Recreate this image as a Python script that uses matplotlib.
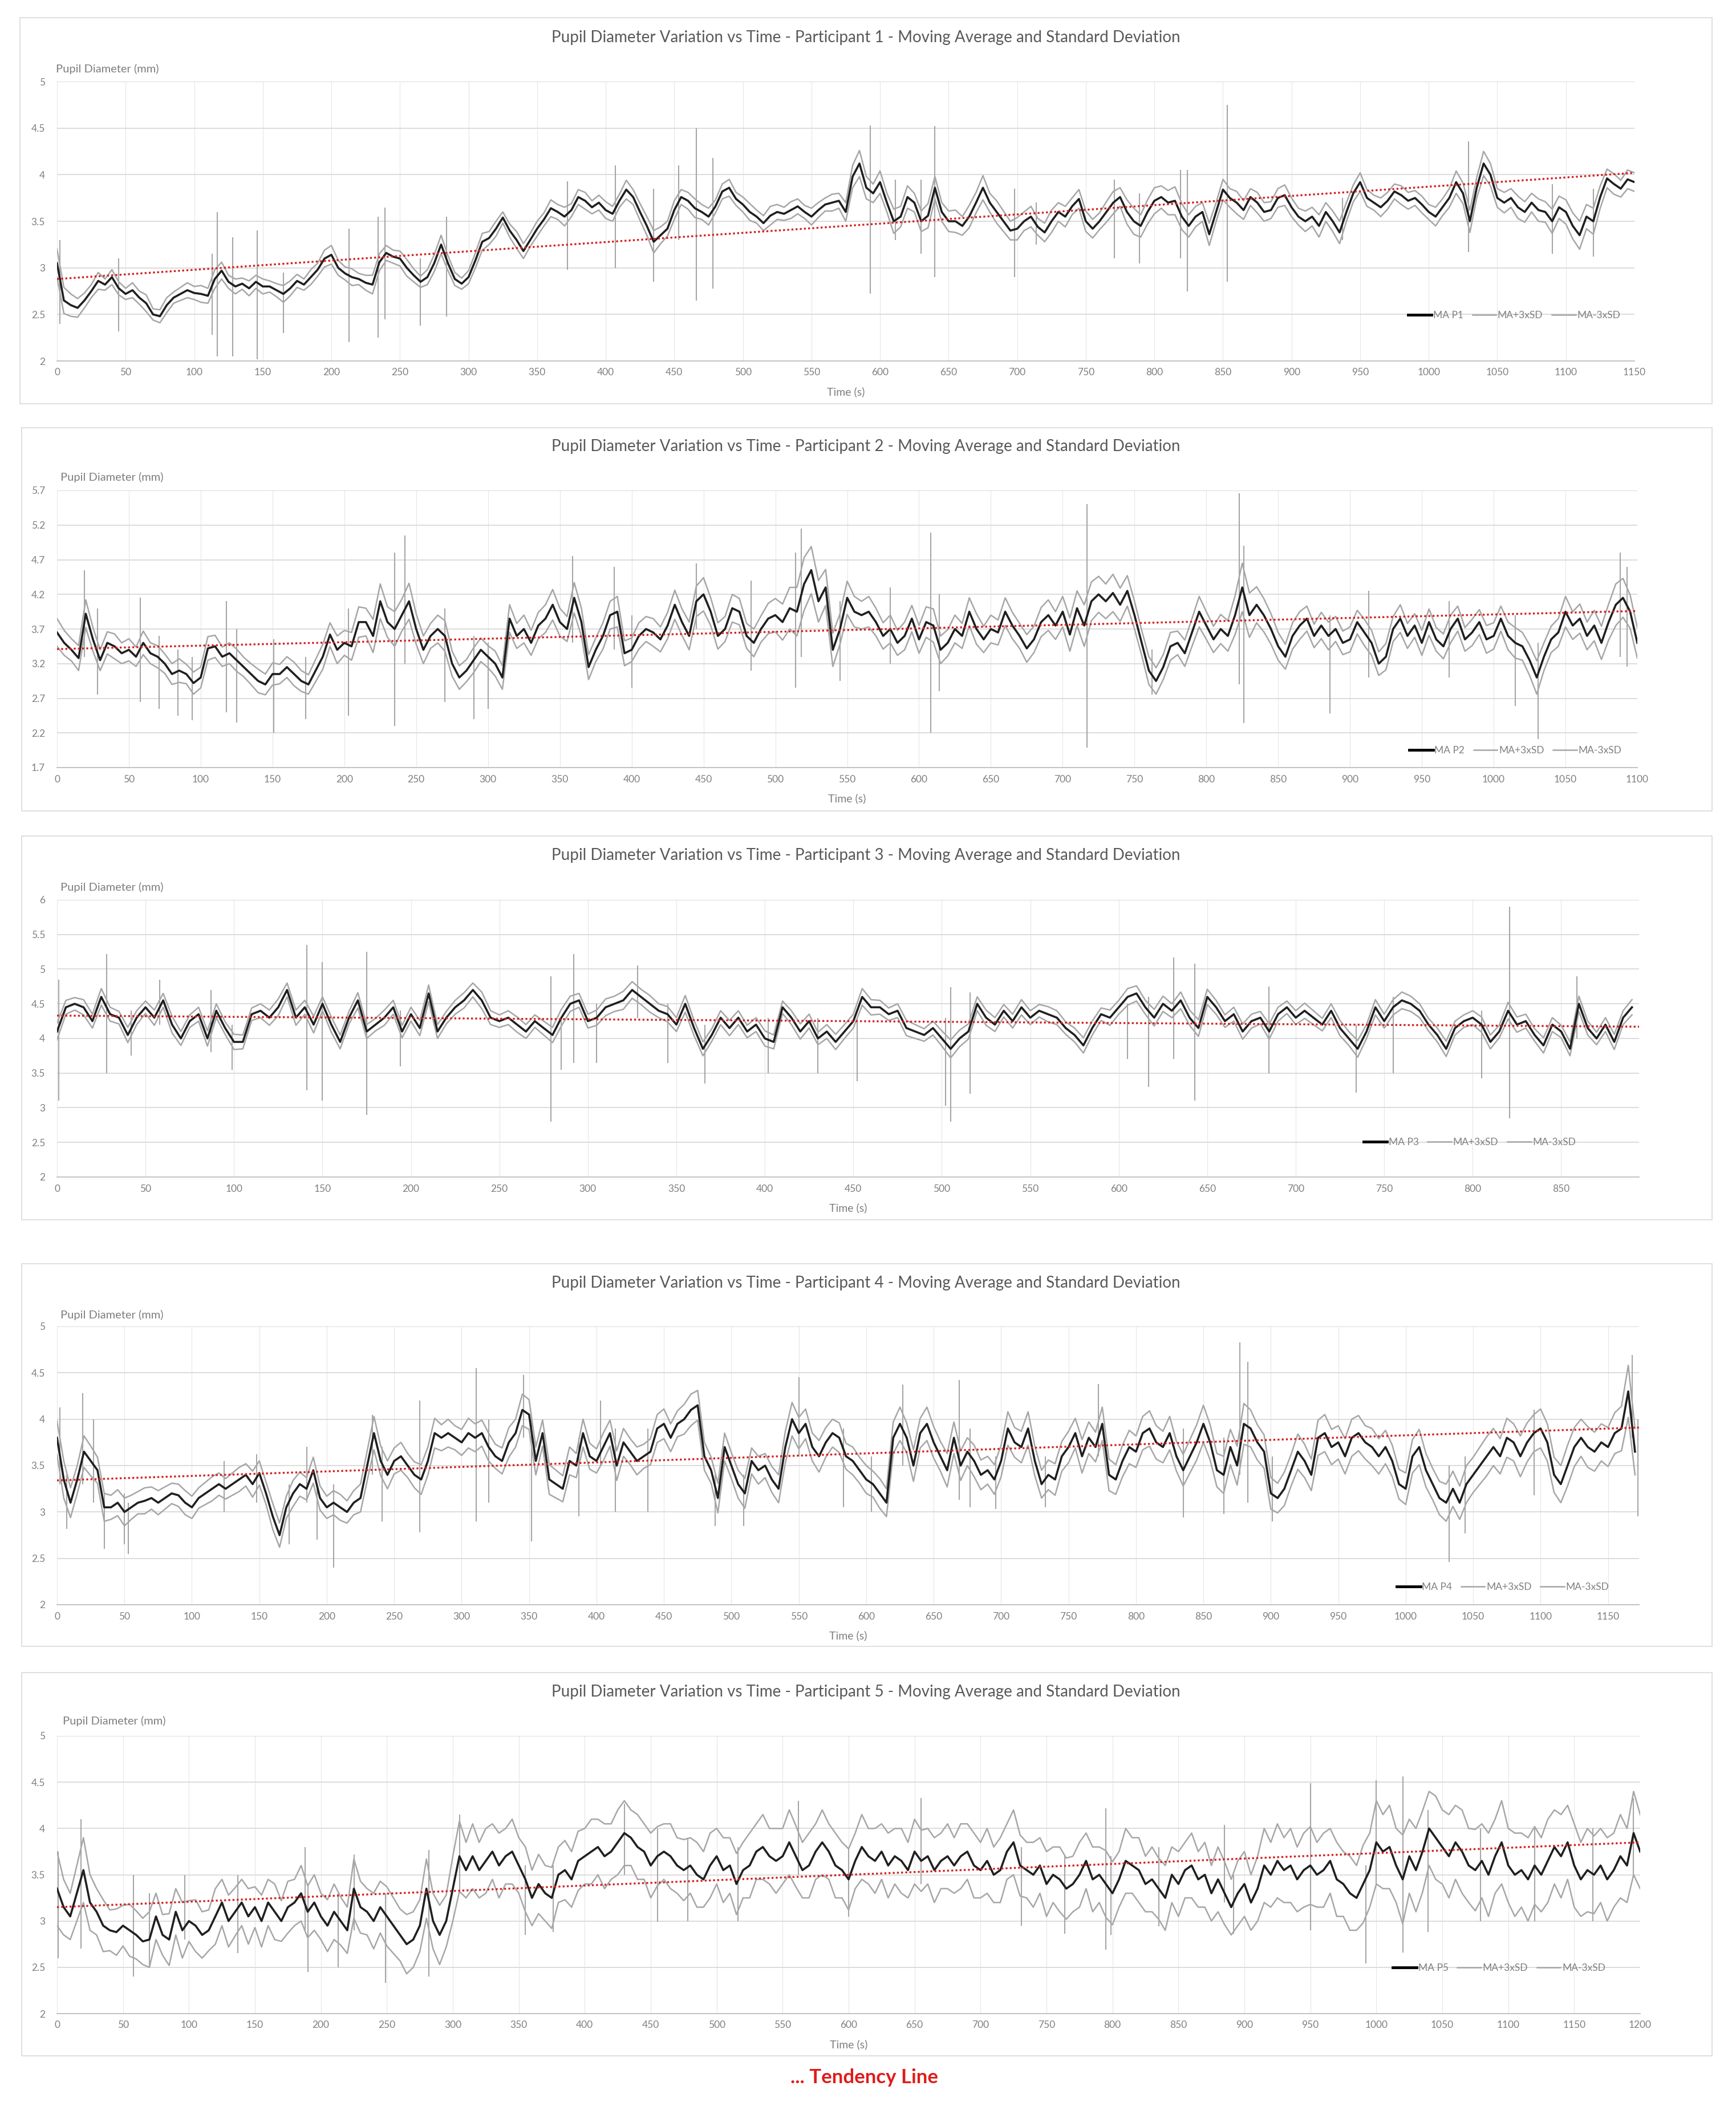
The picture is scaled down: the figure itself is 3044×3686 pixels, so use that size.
import numpy as np
import matplotlib.pyplot as plt
from matplotlib.patches import Rectangle

plt.rcParams['font.family'] = ['Lato', 'DejaVu Sans']

# seconds between two samples of the moving average
STEP = 5

# --- Participant 1 : moving average and 3xSD half width (mm) ---
ma_p1 = [
    3.05, 2.65, 2.6, 2.57, 2.65, 2.75, 2.86, 2.82, 2.9, 2.78,
    2.72, 2.76, 2.68, 2.62, 2.5, 2.48, 2.6, 2.68, 2.72, 2.76,
    2.73, 2.72, 2.7, 2.88, 2.97, 2.85, 2.8, 2.83, 2.78, 2.85,
    2.8, 2.8, 2.76, 2.72, 2.78, 2.86, 2.82, 2.9, 2.98, 3.1,
    3.14, 3.0, 2.94, 2.9, 2.88, 2.84, 2.82, 3.06, 3.16, 3.12,
    3.1, 3.0, 2.92, 2.85, 2.9, 3.05, 3.25, 3.05, 2.88, 2.83,
    2.9, 3.08, 3.28, 3.32, 3.42, 3.54, 3.4, 3.3, 3.18, 3.3,
    3.42, 3.52, 3.64, 3.6, 3.55, 3.62, 3.76, 3.72, 3.65, 3.7,
    3.62, 3.58, 3.72, 3.84, 3.76, 3.6, 3.45, 3.28, 3.35, 3.42,
    3.62, 3.76, 3.72, 3.64, 3.6, 3.55, 3.66, 3.82, 3.86, 3.74,
    3.68, 3.6, 3.55, 3.48, 3.56, 3.6, 3.58, 3.62, 3.66, 3.6,
    3.55, 3.62, 3.68, 3.7, 3.72, 3.6, 3.98, 4.12, 3.86, 3.8,
    3.92, 3.7, 3.5, 3.55, 3.76, 3.7, 3.5, 3.56, 3.86, 3.6,
    3.5, 3.5, 3.45, 3.55, 3.7, 3.86, 3.7, 3.6, 3.5, 3.4,
    3.42, 3.5, 3.55, 3.44, 3.38, 3.5, 3.6, 3.55, 3.66, 3.74,
    3.5, 3.42, 3.5, 3.6, 3.7, 3.76, 3.6, 3.5, 3.45, 3.6,
    3.72, 3.76, 3.7, 3.72, 3.55, 3.45, 3.55, 3.6, 3.36, 3.6,
    3.84, 3.75, 3.7, 3.62, 3.76, 3.7, 3.6, 3.62, 3.75, 3.78,
    3.65, 3.55, 3.5, 3.55, 3.45, 3.6, 3.5, 3.38, 3.6, 3.8,
    3.92, 3.75, 3.7, 3.65, 3.72, 3.82, 3.78, 3.72, 3.75, 3.68,
    3.6, 3.55, 3.65, 3.75, 3.92, 3.8, 3.5, 3.86, 4.12, 4.0,
    3.75, 3.7, 3.75, 3.65, 3.6, 3.7, 3.62, 3.6, 3.5, 3.65,
    3.6, 3.45, 3.35, 3.55, 3.5, 3.76, 3.96, 3.9, 3.85, 3.95,
    3.92,
]
sd3_p1 = [
    0.15, 0.14, 0.12, 0.1, 0.08, 0.07, 0.09, 0.06, 0.08, 0.07,
    0.06, 0.08, 0.07, 0.09, 0.06, 0.07, 0.08, 0.06, 0.07, 0.08,
    0.07, 0.09, 0.08, 0.1, 0.09, 0.07, 0.08, 0.06, 0.08, 0.07,
    0.08, 0.06, 0.07, 0.09, 0.08, 0.07, 0.06, 0.08, 0.07, 0.09,
    0.1, 0.08, 0.07, 0.09, 0.06, 0.08, 0.1, 0.09, 0.08, 0.07,
    0.08, 0.09, 0.07, 0.06, 0.08, 0.09, 0.1, 0.08, 0.07, 0.06,
    0.07, 0.08, 0.09, 0.07, 0.08, 0.06, 0.07, 0.09, 0.08, 0.07,
    0.08, 0.07, 0.09, 0.08, 0.1, 0.07, 0.08, 0.09, 0.07, 0.08,
    0.09, 0.08, 0.07, 0.1, 0.08, 0.09, 0.1, 0.12, 0.09, 0.08,
    0.1, 0.08, 0.09, 0.1, 0.08, 0.09, 0.07, 0.08, 0.09, 0.07,
    0.08, 0.09, 0.07, 0.08, 0.1, 0.08, 0.07, 0.09, 0.08, 0.07,
    0.09, 0.08, 0.07, 0.09, 0.08, 0.1, 0.12, 0.14, 0.12, 0.1,
    0.12, 0.1, 0.13, 0.11, 0.12, 0.1, 0.11, 0.13, 0.12, 0.1,
    0.11, 0.12, 0.1, 0.12, 0.11, 0.13, 0.1, 0.12, 0.11, 0.1,
    0.12, 0.1, 0.11, 0.09, 0.1, 0.12, 0.1, 0.11, 0.09, 0.1,
    0.11, 0.1, 0.09, 0.11, 0.12, 0.1, 0.13, 0.14, 0.12, 0.13,
    0.14, 0.12, 0.13, 0.15, 0.14, 0.12, 0.11, 0.1, 0.12, 0.1,
    0.11, 0.1, 0.12, 0.1, 0.09, 0.11, 0.1, 0.09, 0.1, 0.11,
    0.1, 0.09, 0.11, 0.1, 0.12, 0.1, 0.11, 0.12, 0.1, 0.09,
    0.1, 0.09, 0.08, 0.1, 0.09, 0.08, 0.1, 0.09, 0.08, 0.09,
    0.08, 0.1, 0.09, 0.1, 0.12, 0.11, 0.12, 0.11, 0.13, 0.12,
    0.1, 0.11, 0.1, 0.12, 0.11, 0.1, 0.12, 0.11, 0.13, 0.12,
    0.13, 0.14, 0.15, 0.13, 0.14, 0.12, 0.1, 0.11, 0.09, 0.1,
    0.1,
]
# short artefacts of the MA+3xSD / MA-3xSD curves: (time, top, bottom)
spikes_p1 = [
    (2, 3.3, 2.4), (45, 3.1, 2.32), (113, 3.15, 2.28), (117, 3.6, 2.05),
    (128, 3.33, 2.05), (146, 3.4, 2.02), (165, 2.95, 2.3), (213, 3.42, 2.2),
    (234, 3.55, 2.25), (239, 3.65, 2.45), (265, 3.1, 2.38), (284, 3.55, 2.48),
    (372, 3.93, 2.98), (407, 4.1, 3.0), (435, 3.85, 2.85), (453, 4.1, 3.3),
    (466, 4.5, 2.65), (478, 4.18, 2.78), (593, 4.53, 2.72), (611, 3.95, 3.3),
    (630, 3.95, 3.15), (640, 4.52, 2.9), (698, 3.85, 2.9), (714, 3.7, 3.25),
    (771, 3.95, 3.1), (789, 3.8, 3.05), (819, 4.05, 3.1), (824, 4.05, 2.75),
    (853, 4.75, 2.85), (937, 3.75, 3.3), (1029, 4.36, 3.17), (1090, 3.9, 3.15),
    (1120, 3.85, 3.12),
]

# --- Participant 2 ---
ma_p2 = [
    3.65, 3.5, 3.4, 3.28, 3.92, 3.55, 3.25, 3.5, 3.45, 3.35,
    3.4, 3.3, 3.5, 3.35, 3.3, 3.2, 3.05, 3.1, 3.05, 2.92,
    3.0, 3.42, 3.45, 3.3, 3.35, 3.25, 3.15, 3.05, 2.95, 2.9,
    3.05, 3.05, 3.15, 3.05, 2.95, 2.9, 3.1, 3.3, 3.62, 3.4,
    3.5, 3.45, 3.8, 3.8, 3.6, 4.1, 3.8, 3.7, 3.9, 4.1,
    3.7, 3.4, 3.6, 3.7, 3.6, 3.2, 3.0, 3.1, 3.25, 3.4,
    3.3, 3.2, 3.0, 3.85, 3.6, 3.7, 3.5, 3.75, 3.85, 4.05,
    3.8, 3.7, 4.15, 3.8, 3.15, 3.4, 3.6, 3.9, 3.95, 3.35,
    3.4, 3.6, 3.7, 3.65, 3.55, 3.75, 4.05, 3.8, 3.6, 4.1,
    4.2, 3.95, 3.6, 3.7, 4.0, 3.95, 3.6, 3.5, 3.7, 3.85,
    3.9, 3.8, 4.0, 3.95, 4.35, 4.55, 4.1, 4.3, 3.4, 3.7,
    4.15, 3.95, 3.9, 3.95, 3.8, 3.6, 3.7, 3.5, 3.6, 3.85,
    3.55, 3.8, 3.75, 3.4, 3.5, 3.7, 3.6, 3.95, 3.7, 3.55,
    3.7, 3.65, 3.95, 3.75, 3.6, 3.42, 3.55, 3.8, 3.9, 3.75,
    3.95, 3.62, 4.0, 3.75, 4.1, 4.2, 4.1, 4.22, 4.05, 4.25,
    3.9, 3.5, 3.1, 2.95, 3.15, 3.45, 3.5, 3.35, 3.65, 3.95,
    3.75, 3.55, 3.7, 3.6, 3.9, 4.3, 3.9, 4.05, 3.9, 3.7,
    3.45, 3.3, 3.6, 3.75, 3.85, 3.6, 3.75, 3.6, 3.7, 3.5,
    3.55, 3.8, 3.65, 3.5, 3.2, 3.3, 3.7, 3.85, 3.6, 3.75,
    3.5, 3.8, 3.55, 3.45, 3.7, 3.85, 3.55, 3.65, 3.8, 3.55,
    3.6, 3.85, 3.6, 3.5, 3.45, 3.25, 3.0, 3.3, 3.55, 3.65,
    3.95, 3.75, 3.85, 3.6, 3.75, 3.5, 3.8, 4.05, 4.15, 3.95,
    3.5,
]
sd3_p2 = [
    0.2, 0.18, 0.16, 0.18, 0.2, 0.17, 0.15, 0.16, 0.18, 0.15,
    0.16, 0.14, 0.17, 0.15, 0.16, 0.14, 0.15, 0.17, 0.14, 0.16,
    0.15, 0.17, 0.16, 0.14, 0.15, 0.16, 0.14, 0.15, 0.17, 0.15,
    0.16, 0.14, 0.15, 0.17, 0.15, 0.14, 0.16, 0.18, 0.17, 0.2,
    0.18, 0.2, 0.22, 0.2, 0.24, 0.25, 0.22, 0.25, 0.23, 0.26,
    0.22, 0.2, 0.18, 0.2, 0.22, 0.18, 0.17, 0.16, 0.18, 0.17,
    0.16, 0.18, 0.17, 0.2, 0.18, 0.2, 0.18, 0.19, 0.2, 0.22,
    0.2, 0.18, 0.22, 0.2, 0.18, 0.17, 0.19, 0.2, 0.22, 0.18,
    0.17, 0.19, 0.18, 0.2, 0.18, 0.19, 0.21, 0.19, 0.2, 0.22,
    0.24, 0.2, 0.19, 0.18, 0.2, 0.19, 0.18, 0.2, 0.19, 0.22,
    0.24, 0.26, 0.3, 0.35, 0.38, 0.34, 0.3, 0.26, 0.24, 0.22,
    0.24, 0.22, 0.2, 0.22, 0.2, 0.19, 0.2, 0.18, 0.2, 0.19,
    0.2, 0.22, 0.24, 0.2, 0.19, 0.2, 0.18, 0.2, 0.22, 0.19,
    0.2, 0.18, 0.2, 0.19, 0.18, 0.2, 0.19, 0.21, 0.22, 0.2,
    0.22, 0.24, 0.25, 0.3, 0.28, 0.26, 0.25, 0.27, 0.24, 0.22,
    0.2, 0.18, 0.2, 0.19, 0.18, 0.2, 0.17, 0.19, 0.2, 0.22,
    0.2, 0.19, 0.21, 0.22, 0.28, 0.35, 0.32, 0.26, 0.24, 0.22,
    0.2, 0.18, 0.19, 0.2, 0.18, 0.17, 0.19, 0.2, 0.18, 0.17,
    0.18, 0.17, 0.19, 0.18, 0.17, 0.19, 0.18, 0.2, 0.18, 0.17,
    0.18, 0.19, 0.17, 0.18, 0.2, 0.18, 0.17, 0.19, 0.18, 0.2,
    0.19, 0.18, 0.2, 0.22, 0.2, 0.22, 0.24, 0.2, 0.19, 0.2,
    0.22, 0.2, 0.21, 0.2, 0.22, 0.24, 0.26, 0.3, 0.28, 0.24,
    0.22,
]
spikes_p2 = [
    (19, 4.55, 3.3), (28, 4.0, 2.75), (58, 4.15, 2.65), (71, 3.6, 2.55),
    (84, 3.4, 2.45), (94, 3.3, 2.38), (118, 4.1, 2.5), (125, 3.7, 2.35),
    (151, 3.55, 2.2), (173, 3.3, 2.4), (203, 4.0, 2.45), (235, 4.8, 2.3),
    (242, 5.05, 3.2), (270, 4.0, 2.65), (290, 3.6, 2.4), (300, 3.5, 2.55),
    (359, 4.75, 3.5), (388, 4.6, 3.4), (400, 3.9, 2.85), (445, 4.65, 3.7),
    (483, 4.4, 3.1), (514, 4.8, 2.85), (518, 5.15, 3.3), (545, 4.1, 2.95),
    (580, 4.3, 3.2), (608, 5.09, 2.2), (614, 4.2, 2.8), (717, 5.5, 1.99),
    (762, 3.4, 2.75), (823, 5.66, 2.9), (826, 4.9, 2.34), (886, 3.9, 2.48),
    (913, 4.25, 3.0), (969, 4.1, 3.0), (1015, 3.9, 2.59), (1031, 3.5, 2.11),
    (1088, 4.8, 3.3), (1093, 4.6, 3.16),
]

# --- Participant 3 ---
ma_p3 = [
    4.1, 4.45, 4.5, 4.45, 4.25, 4.6, 4.35, 4.3, 4.05, 4.3,
    4.45, 4.3, 4.55, 4.2, 4.0, 4.25, 4.35, 4.0, 4.4, 4.15,
    3.95, 3.95, 4.35, 4.4, 4.3, 4.45, 4.7, 4.3, 4.45, 4.2,
    4.5, 4.2, 3.95, 4.3, 4.55, 4.1, 4.2, 4.3, 4.45, 4.1,
    4.35, 4.15, 4.65, 4.1, 4.3, 4.45, 4.55, 4.7, 4.55, 4.3,
    4.25, 4.3, 4.2, 4.1, 4.25, 4.15, 4.05, 4.3, 4.5, 4.55,
    4.25, 4.3, 4.45, 4.5, 4.55, 4.7, 4.6, 4.5, 4.4, 4.35,
    4.2, 4.5, 4.15, 3.85, 4.05, 4.3, 4.15, 4.3, 4.1, 4.2,
    4.0, 3.95, 4.45, 4.3, 4.1, 4.25, 4.0, 4.1, 3.95, 4.1,
    4.25, 4.6, 4.45, 4.45, 4.35, 4.4, 4.15, 4.1, 4.05, 4.15,
    4.0, 3.85, 4.0, 4.1, 4.5, 4.3, 4.2, 4.4, 4.25, 4.45,
    4.3, 4.4, 4.35, 4.3, 4.15, 4.05, 3.9, 4.15, 4.35, 4.3,
    4.45, 4.6, 4.65, 4.45, 4.3, 4.5, 4.4, 4.55, 4.3, 4.15,
    4.6, 4.45, 4.25, 4.35, 4.1, 4.25, 4.3, 4.1, 4.35, 4.45,
    4.3, 4.4, 4.3, 4.2, 4.4, 4.15, 4.0, 3.85, 4.1, 4.45,
    4.25, 4.45, 4.55, 4.5, 4.4, 4.2, 4.05, 3.85, 4.15, 4.25,
    4.3, 4.2, 3.95, 4.1, 4.4, 4.2, 4.25, 4.05, 3.9, 4.2,
    4.1, 3.85, 4.5, 4.15, 4.0, 4.2, 3.95, 4.3, 4.45,
]
sd3_p3 = [
    0.12, 0.1, 0.09, 0.11, 0.1, 0.12, 0.1, 0.09, 0.11, 0.1,
    0.09, 0.11, 0.1, 0.12, 0.1, 0.09, 0.1, 0.11, 0.1, 0.09,
    0.11, 0.1, 0.09, 0.1, 0.11, 0.12, 0.1, 0.11, 0.1, 0.12,
    0.1, 0.11, 0.1, 0.09, 0.11, 0.1, 0.09, 0.11, 0.1, 0.09,
    0.1, 0.11, 0.12, 0.1, 0.09, 0.1, 0.11, 0.1, 0.12, 0.1,
    0.09, 0.1, 0.11, 0.1, 0.09, 0.1, 0.11, 0.12, 0.11, 0.1,
    0.1, 0.11, 0.12, 0.11, 0.13, 0.12, 0.11, 0.12, 0.1, 0.11,
    0.1, 0.12, 0.11, 0.1, 0.09, 0.1, 0.11, 0.1, 0.09, 0.1,
    0.11, 0.1, 0.09, 0.1, 0.11, 0.1, 0.09, 0.1, 0.11, 0.1,
    0.1, 0.12, 0.11, 0.1, 0.09, 0.1, 0.11, 0.1, 0.09, 0.1,
    0.11, 0.13, 0.12, 0.11, 0.1, 0.11, 0.1, 0.09, 0.1, 0.11,
    0.1, 0.09, 0.11, 0.1, 0.09, 0.1, 0.11, 0.1, 0.09, 0.11,
    0.1, 0.12, 0.11, 0.1, 0.12, 0.11, 0.1, 0.12, 0.11, 0.12,
    0.11, 0.1, 0.09, 0.1, 0.11, 0.1, 0.09, 0.11, 0.1, 0.09,
    0.1, 0.11, 0.1, 0.09, 0.1, 0.11, 0.1, 0.12, 0.1, 0.11,
    0.1, 0.11, 0.12, 0.11, 0.1, 0.09, 0.1, 0.11, 0.1, 0.09,
    0.1, 0.11, 0.1, 0.09, 0.12, 0.11, 0.1, 0.09, 0.11, 0.1,
    0.09, 0.1, 0.11, 0.1, 0.09, 0.1, 0.11, 0.1, 0.11,
]
spikes_p3 = [
    (1, 4.85, 3.1), (28, 5.22, 3.5), (42, 4.4, 3.75), (58, 4.85, 4.2),
    (87, 4.7, 3.8), (99, 4.2, 3.55), (141, 5.35, 3.25), (150, 5.1, 3.1),
    (175, 5.25, 2.9), (194, 4.4, 3.6), (279, 4.9, 2.8), (285, 4.3, 3.55),
    (292, 5.22, 3.65), (305, 4.5, 3.65), (328, 5.05, 4.3), (345, 4.5, 3.65),
    (366, 4.2, 3.35), (402, 4.3, 3.5), (430, 4.3, 3.5), (452, 4.3, 3.38),
    (502, 4.3, 3.03), (505, 4.74, 2.8), (516, 4.67, 3.2), (605, 4.5, 3.7),
    (617, 4.6, 3.3), (631, 5.17, 3.7), (643, 5.08, 3.1), (685, 4.75, 3.5),
    (734, 4.2, 3.22), (755, 4.6, 3.5), (805, 4.4, 3.42), (821, 5.9, 2.85),
    (859, 4.9, 4.0),
]

# --- Participant 4 ---
ma_p4 = [
    3.8, 3.35, 3.1, 3.35, 3.65, 3.55, 3.45, 3.05, 3.05, 3.1,
    3.0, 3.05, 3.1, 3.12, 3.15, 3.1, 3.15, 3.2, 3.18, 3.1,
    3.05, 3.15, 3.2, 3.25, 3.3, 3.25, 3.3, 3.35, 3.4, 3.3,
    3.42, 3.2, 2.95, 2.75, 3.05, 3.2, 3.3, 3.25, 3.45, 3.15,
    3.05, 3.1, 3.05, 3.0, 3.1, 3.15, 3.5, 3.85, 3.55, 3.4,
    3.55, 3.6, 3.5, 3.4, 3.35, 3.55, 3.85, 3.8, 3.85, 3.8,
    3.75, 3.85, 3.8, 3.85, 3.7, 3.6, 3.55, 3.75, 3.85, 4.1,
    4.05, 3.55, 3.85, 3.35, 3.3, 3.25, 3.55, 3.5, 3.85, 3.6,
    3.55, 3.7, 3.85, 3.5, 3.75, 3.65, 3.55, 3.6, 3.65, 3.9,
    3.95, 3.8, 3.95, 4.0, 4.1, 4.15, 3.6, 3.45, 3.15, 3.7,
    3.5, 3.3, 3.2, 3.55, 3.45, 3.5, 3.35, 3.25, 3.7, 4.0,
    3.85, 3.95, 3.7, 3.6, 3.75, 3.85, 3.8, 3.6, 3.55, 3.45,
    3.35, 3.3, 3.2, 3.1, 3.8, 3.95, 3.8, 3.5, 3.85, 3.95,
    3.75, 3.6, 3.45, 3.8, 3.5, 3.65, 3.55, 3.4, 3.45, 3.35,
    3.55, 3.9, 3.75, 3.7, 3.9, 3.55, 3.3, 3.4, 3.35, 3.6,
    3.7, 3.85, 3.6, 3.8, 3.7, 3.95, 3.4, 3.35, 3.55, 3.7,
    3.65, 3.85, 3.9, 3.75, 3.7, 3.85, 3.6, 3.45, 3.6, 3.75,
    3.95, 3.75, 3.45, 3.4, 3.7, 3.5, 3.95, 3.9, 3.75, 3.65,
    3.2, 3.15, 3.25, 3.45, 3.65, 3.55, 3.4, 3.8, 3.85, 3.7,
    3.75, 3.6, 3.8, 3.85, 3.75, 3.7, 3.6, 3.7, 3.55, 3.3,
    3.25, 3.6, 3.7, 3.45, 3.3, 3.15, 3.1, 3.25, 3.1, 3.3,
    3.4, 3.5, 3.6, 3.7, 3.6, 3.8, 3.75, 3.6, 3.75, 3.85,
    3.9, 3.75, 3.4, 3.3, 3.5, 3.7, 3.8, 3.7, 3.65, 3.75,
    3.7, 3.85, 3.9, 4.3, 3.65,
]
sd3_p4 = [
    0.18, 0.2, 0.16, 0.15, 0.17, 0.16, 0.14, 0.15, 0.13, 0.14,
    0.15, 0.13, 0.12, 0.14, 0.12, 0.13, 0.12, 0.11, 0.12, 0.13,
    0.12, 0.11, 0.12, 0.13, 0.12, 0.11, 0.12, 0.13, 0.12, 0.14,
    0.13, 0.12, 0.14, 0.13, 0.12, 0.14, 0.13, 0.12, 0.14, 0.13,
    0.12, 0.13, 0.14, 0.12, 0.13, 0.15, 0.16, 0.18, 0.16, 0.15,
    0.14, 0.15, 0.13, 0.14, 0.16, 0.15, 0.16, 0.14, 0.15, 0.13,
    0.14, 0.16, 0.15, 0.14, 0.15, 0.13, 0.14, 0.16, 0.15, 0.17,
    0.16, 0.15, 0.14, 0.16, 0.15, 0.14, 0.15, 0.13, 0.15, 0.14,
    0.13, 0.15, 0.14, 0.16, 0.15, 0.14, 0.15, 0.13, 0.14, 0.15,
    0.16, 0.15, 0.14, 0.16, 0.17, 0.16, 0.15, 0.14, 0.16, 0.15,
    0.14, 0.15, 0.16, 0.14, 0.15, 0.13, 0.14, 0.15, 0.17, 0.18,
    0.17, 0.16, 0.15, 0.17, 0.16, 0.15, 0.16, 0.14, 0.15, 0.14,
    0.15, 0.14, 0.16, 0.15, 0.17, 0.18, 0.16, 0.17, 0.16, 0.18,
    0.17, 0.16, 0.18, 0.17, 0.16, 0.15, 0.17, 0.16, 0.15, 0.16,
    0.17, 0.18, 0.16, 0.17, 0.18, 0.16, 0.15, 0.16, 0.17, 0.16,
    0.17, 0.16, 0.18, 0.17, 0.16, 0.18, 0.17, 0.16, 0.17, 0.18,
    0.17, 0.18, 0.19, 0.18, 0.17, 0.18, 0.16, 0.17, 0.18, 0.19,
    0.2, 0.19, 0.18, 0.2, 0.19, 0.21, 0.22, 0.2, 0.19, 0.18,
    0.17, 0.16, 0.18, 0.17, 0.19, 0.18, 0.17, 0.19, 0.2, 0.19,
    0.18, 0.19, 0.2, 0.19, 0.18, 0.2, 0.19, 0.18, 0.17, 0.16,
    0.17, 0.18, 0.19, 0.18, 0.17, 0.18, 0.2, 0.19, 0.18, 0.2,
    0.19, 0.2, 0.21, 0.2, 0.19, 0.21, 0.2, 0.22, 0.21, 0.2,
    0.21, 0.2, 0.19, 0.2, 0.22, 0.21, 0.2, 0.22, 0.21, 0.2,
    0.21, 0.22, 0.24, 0.28, 0.25,
]
spikes_p4 = [
    (2, 4.13, 3.3), (7, 3.4, 2.82), (19, 4.28, 3.3), (27, 4.0, 3.1),
    (35, 3.2, 2.6), (50, 3.2, 2.65), (53, 3.1, 2.55), (124, 3.55, 3.0),
    (148, 3.62, 3.1), (172, 3.3, 2.65), (185, 3.7, 3.1), (193, 3.3, 2.7),
    (205, 3.3, 2.4), (234, 4.05, 3.4), (241, 3.7, 2.9), (269, 4.2, 2.78),
    (311, 4.55, 2.9), (320, 4.0, 3.1), (346, 4.48, 3.8), (352, 4.0, 2.68),
    (387, 3.8, 2.95), (403, 4.2, 3.5), (414, 3.9, 3.0), (438, 3.9, 3.0),
    (488, 3.4, 2.85), (509, 3.4, 2.85), (550, 4.45, 3.6), (583, 3.9, 3.05),
    (604, 3.6, 3.0), (627, 4.37, 3.5), (669, 4.42, 3.13), (677, 3.9, 3.05),
    (696, 3.6, 3.03), (733, 3.6, 3.05), (772, 4.38, 3.6), (835, 3.9, 2.94),
    (865, 3.8, 2.98), (877, 4.83, 3.4), (883, 4.62, 3.1), (901, 3.6, 2.9),
    (1032, 3.5, 2.46), (1044, 3.6, 2.77), (1095, 4.1, 3.18), (1168, 4.69, 3.8),
    (1172, 4.0, 2.95),
]

# --- Participant 5 ---
ma_p5 = [
    3.35, 3.15, 3.05, 3.3, 3.55, 3.2, 3.1, 2.95, 2.9, 2.88,
    2.95, 2.9, 2.85, 2.78, 2.8, 3.05, 2.85, 2.8, 3.1, 2.9,
    3.0, 2.95, 2.85, 2.9, 3.05, 3.2, 3.0, 3.1, 3.2, 3.05,
    3.15, 3.0, 3.2, 3.1, 3.0, 3.15, 3.2, 3.3, 3.1, 3.2,
    3.05, 2.95, 3.1, 3.0, 2.9, 3.35, 3.15, 3.1, 3.0, 3.15,
    3.05, 2.95, 2.85, 2.75, 2.8, 2.95, 3.35, 3.0, 2.85, 3.0,
    3.35, 3.7, 3.55, 3.7, 3.55, 3.65, 3.75, 3.6, 3.7, 3.75,
    3.6, 3.45, 3.25, 3.4, 3.3, 3.25, 3.5, 3.55, 3.45, 3.65,
    3.7, 3.75, 3.8, 3.7, 3.75, 3.85, 3.95, 3.9, 3.8, 3.75,
    3.6, 3.7, 3.75, 3.7, 3.6, 3.55, 3.6, 3.5, 3.45, 3.6,
    3.7, 3.55, 3.6, 3.4, 3.55, 3.6, 3.75, 3.8, 3.7, 3.65,
    3.7, 3.85, 3.7, 3.55, 3.6, 3.75, 3.85, 3.75, 3.6, 3.55,
    3.45, 3.65, 3.8, 3.7, 3.65, 3.75, 3.6, 3.7, 3.65, 3.55,
    3.75, 3.65, 3.7, 3.55, 3.65, 3.7, 3.6, 3.7, 3.75, 3.6,
    3.55, 3.65, 3.5, 3.55, 3.75, 3.85, 3.6, 3.55, 3.5, 3.6,
    3.4, 3.5, 3.45, 3.35, 3.4, 3.5, 3.65, 3.45, 3.5, 3.4,
    3.3, 3.45, 3.65, 3.6, 3.55, 3.4, 3.45, 3.35, 3.25, 3.5,
    3.4, 3.55, 3.6, 3.45, 3.5, 3.3, 3.45, 3.3, 3.15, 3.3,
    3.4, 3.2, 3.35, 3.6, 3.5, 3.65, 3.55, 3.6, 3.45, 3.55,
    3.6, 3.5, 3.55, 3.65, 3.45, 3.4, 3.3, 3.25, 3.4, 3.55,
    3.85, 3.75, 3.8, 3.6, 3.45, 3.7, 3.55, 3.75, 4.0, 3.9,
    3.8, 3.7, 3.85, 3.75, 3.6, 3.55, 3.65, 3.5, 3.7, 3.85,
    3.6, 3.5, 3.55, 3.45, 3.6, 3.5, 3.65, 3.8, 3.7, 3.85,
    3.6, 3.45, 3.55, 3.5, 3.6, 3.45, 3.55, 3.7, 3.6, 3.95,
    3.75,
]
sd3_p5 = [
    0.4, 0.3, 0.25, 0.3, 0.35, 0.3, 0.25, 0.28, 0.22, 0.25,
    0.22, 0.28, 0.26, 0.25, 0.3, 0.25, 0.22, 0.28, 0.25, 0.3,
    0.22, 0.28, 0.25, 0.22, 0.3, 0.25, 0.28, 0.26, 0.25, 0.3,
    0.22, 0.28, 0.25, 0.3, 0.22, 0.28, 0.25, 0.3, 0.28, 0.3,
    0.25, 0.28, 0.3, 0.26, 0.25, 0.32, 0.28, 0.25, 0.3, 0.28,
    0.32, 0.3, 0.28, 0.32, 0.3, 0.28, 0.32, 0.3, 0.32, 0.28,
    0.35, 0.38, 0.3, 0.35, 0.3, 0.35, 0.3, 0.35, 0.3, 0.35,
    0.3, 0.35, 0.3, 0.32, 0.3, 0.33, 0.3, 0.32, 0.3, 0.32,
    0.3, 0.35, 0.3, 0.35, 0.3, 0.35, 0.35, 0.3, 0.35, 0.3,
    0.35, 0.32, 0.3, 0.35, 0.3, 0.33, 0.3, 0.35, 0.3, 0.35,
    0.3, 0.35, 0.3, 0.33, 0.3, 0.35, 0.3, 0.35, 0.3, 0.35,
    0.3, 0.35, 0.33, 0.3, 0.35, 0.3, 0.35, 0.3, 0.35, 0.3,
    0.33, 0.3, 0.35, 0.3, 0.35, 0.3, 0.35, 0.3, 0.35, 0.3,
    0.35, 0.33, 0.3, 0.35, 0.3, 0.35, 0.3, 0.35, 0.3, 0.35,
    0.3, 0.35, 0.3, 0.35, 0.3, 0.35, 0.33, 0.3, 0.35, 0.3,
    0.35, 0.3, 0.35, 0.33, 0.3, 0.35, 0.3, 0.35, 0.3, 0.36,
    0.34, 0.3, 0.35, 0.3, 0.35, 0.3, 0.35, 0.33, 0.35, 0.3,
    0.35, 0.3, 0.35, 0.3, 0.35, 0.3, 0.35, 0.34, 0.3, 0.35,
    0.35, 0.3, 0.35, 0.4, 0.35, 0.4, 0.35, 0.4, 0.35, 0.4,
    0.42, 0.35, 0.4, 0.35, 0.4, 0.35, 0.4, 0.35, 0.42, 0.4,
    0.45, 0.4, 0.45, 0.4, 0.48, 0.4, 0.45, 0.44, 0.4, 0.45,
    0.4, 0.45, 0.4, 0.45, 0.4, 0.44, 0.4, 0.45, 0.4, 0.45,
    0.4, 0.45, 0.4, 0.45, 0.42, 0.4, 0.45, 0.4, 0.45, 0.4,
    0.45, 0.4, 0.45, 0.42, 0.4, 0.45, 0.4, 0.45, 0.4, 0.45,
    0.4,
]
spikes_p5 = [
    (1, 3.75, 2.6), (18, 4.1, 2.7), (58, 3.5, 2.4), (70, 3.3, 2.5),
    (97, 3.5, 2.8), (137, 3.5, 2.65), (188, 3.8, 2.9), (190, 3.4, 2.45),
    (213, 3.3, 2.5), (225, 3.72, 2.9), (249, 3.3, 2.33), (282, 3.77, 2.4),
    (305, 4.15, 3.3), (355, 3.6, 2.85), (376, 3.6, 2.88), (430, 4.27, 3.5),
    (455, 4.0, 2.99), (478, 3.9, 3.0), (516, 3.8, 3.0), (562, 4.3, 3.5),
    (600, 3.8, 3.05), (655, 4.33, 3.4), (731, 3.8, 2.95), (764, 3.7, 2.86),
    (795, 4.22, 2.69), (799, 3.7, 2.85), (835, 3.8, 2.94), (885, 4.04, 3.2),
    (892, 3.5, 2.86), (950, 4.49, 2.9), (992, 3.6, 2.54), (1000, 4.52, 3.4),
    (1020, 4.56, 2.66), (1039, 4.2, 2.88), (1079, 4.0, 3.0), (1120, 4.0, 3.0),
    (1164, 4.0, 3.0), (1195, 4.33, 3.5),
]

# linear tendency line: value at t=0 and at the end of the recording
trend_p1 = [2.88, 4.02]
trend_p2 = [3.41, 3.96]
trend_p3 = [4.33, 4.17]
trend_p4 = [3.34, 3.91]
trend_p5 = [3.15, 3.85]

# end of each recording (s) = right end of the time axis
t_end = [1150, 1100, 894, 1173, 1200]

yticks_p1 = [2, 2.5, 3, 3.5, 4, 4.5, 5]
yticks_p2 = [1.7, 2.2, 2.7, 3.2, 3.7, 4.2, 4.7, 5.2, 5.7]
yticks_p3 = [2, 2.5, 3, 3.5, 4, 4.5, 5, 5.5, 6]
yticks_p4 = [2, 2.5, 3, 3.5, 4, 4.5, 5]
yticks_p5 = [2, 2.5, 3, 3.5, 4, 4.5, 5]

participants = [1, 2, 3, 4, 5]
ma_all = [ma_p1, ma_p2, ma_p3, ma_p4, ma_p5]
sd_all = [sd3_p1, sd3_p2, sd3_p3, sd3_p4, sd3_p5]
spikes_all = [spikes_p1, spikes_p2, spikes_p3, spikes_p4, spikes_p5]
trend_all = [trend_p1, trend_p2, trend_p3, trend_p4, trend_p5]
yticks_all = [yticks_p1, yticks_p2, yticks_p3, yticks_p4, yticks_p5]

# ---------------- layout (pixels of the 3044 x 3686 picture) ----------------
W, H = 3044, 3686
frames_px = [(35, 31, 3002, 708), (38, 750, 3002, 1422), (38, 1466, 3002, 2139),
             (38, 2216, 3002, 2887), (38, 2933, 3002, 3605)]
axes_px = [(100, 143, 2866, 633), (100, 860, 2871, 1346), (100, 1578, 2874, 2064),
           (100, 2326, 2874, 2814), (100, 3044, 2876, 3531)]
title_y = [66, 783, 1500, 2250, 2967]
ylab_xy = [(98, 121), (106, 837), (106, 1556), (106, 2306), (110, 3018)]
legend_anchor = [(0.991, 0.163), (0.990, 0.062), (0.960, 0.126), (0.981, 0.064), (0.978, 0.164)]

GREY_TXT = '#595959'
TICK_TXT = '#7f7f7f'
BAND = '#a6a6a6'

fig = plt.figure(figsize=(W / 100, H / 100), dpi=100)
fig.patch.set_facecolor('white')

for i, p in enumerate(participants):
    fx0, fy0, fx1, fy1 = frames_px[i]
    fig.add_artist(Rectangle((fx0 / W, 1 - fy1 / H), (fx1 - fx0) / W, (fy1 - fy0) / H,
                             transform=fig.transFigure, fill=False,
                             edgecolor='#d9d9d9', linewidth=1.2))

    x0, y0, x1, y1 = axes_px[i]
    ax = fig.add_axes([x0 / W, 1 - y1 / H, (x1 - x0) / W, (y1 - y0) / H])

    ma = np.array(ma_all[i])
    sd3 = np.array(sd_all[i])
    assert len(ma) == len(sd3)
    t = np.arange(len(ma)) * STEP

    ax.plot(t, ma + sd3, color=BAND, lw=1.8, label='MA+3xSD', zorder=2)
    ax.plot(t, ma - sd3, color=BAND, lw=1.8, label='MA-3xSD', zorder=2)
    st, shi, slo = zip(*spikes_all[i])
    ax.vlines(st, slo, shi, color=BAND, lw=1.5, zorder=2)
    ax.plot(t, ma, color='#1f1f1f', lw=2.6, label=f'MA P{p}', zorder=3)
    ax.plot([0, t_end[i]], trend_all[i], color='#d42020', lw=2.4,
            linestyle=(0, (1, 1.2)), zorder=4)

    yt = yticks_all[i]
    ax.set_xlim(0, t_end[i])
    ax.set_ylim(yt[0], yt[-1])
    ax.set_yticks(yt)
    ax.set_yticklabels([f'{v:g}' for v in yt])
    ax.set_xticks(np.arange(0, t_end[i] + 1, 50))

    ax.grid(axis='y', color='#d9d9d9', lw=1.3)
    ax.grid(axis='x', color='#e6e6e6', lw=0.8)
    ax.set_axisbelow(True)
    for s in ['left', 'right', 'top']:
        ax.spines[s].set_visible(False)
    ax.spines['bottom'].set_color('#bfbfbf')
    ax.spines['bottom'].set_linewidth(1.3)
    ax.tick_params(axis='both', length=0, labelsize=12.5, labelcolor=TICK_TXT)
    ax.tick_params(axis='y', pad=15)
    ax.tick_params(axis='x', pad=9)

    # legend: MA first, then the two bands
    h, lab = ax.get_legend_handles_labels()
    order = [2, 0, 1]
    leg = ax.legend([h[k] for k in order], [lab[k] for k in order],
                    loc='center right', bbox_to_anchor=legend_anchor[i],
                    ncol=3, frameon=False, fontsize=12.5, handlelength=2.4,
                    handletextpad=0.15, columnspacing=0.9, borderpad=0,
                    borderaxespad=0)
    for txt in leg.get_texts():
        txt.set_color(TICK_TXT)
    leg.get_lines()[0].set_linewidth(3.5)
    leg.get_lines()[0].set_color('black')

    fig.text(1518 / W, 1 - title_y[i] / H,
             f'Pupil Diameter Variation vs Time - Participant {p} - Moving Average and Standard Deviation',
             ha='center', va='center', fontsize=20, color=GREY_TXT)
    lx, ly = ylab_xy[i]
    fig.text(lx / W, 1 - ly / H, 'Pupil Diameter (mm)', ha='left', va='center',
             fontsize=14.5, color=TICK_TXT)
    fig.text((x0 + x1) / 2 / W, 1 - (y1 + 54) / H, 'Time (s)', ha='center', va='center',
             fontsize=14, color=TICK_TXT)

fig.text(1516 / W, 1 - 3643 / H, '... Tendency Line', ha='center', va='center',
         fontsize=25, fontweight='bold', color='#e01b1b')

fig.savefig('out.png', dpi=100, facecolor='white')
